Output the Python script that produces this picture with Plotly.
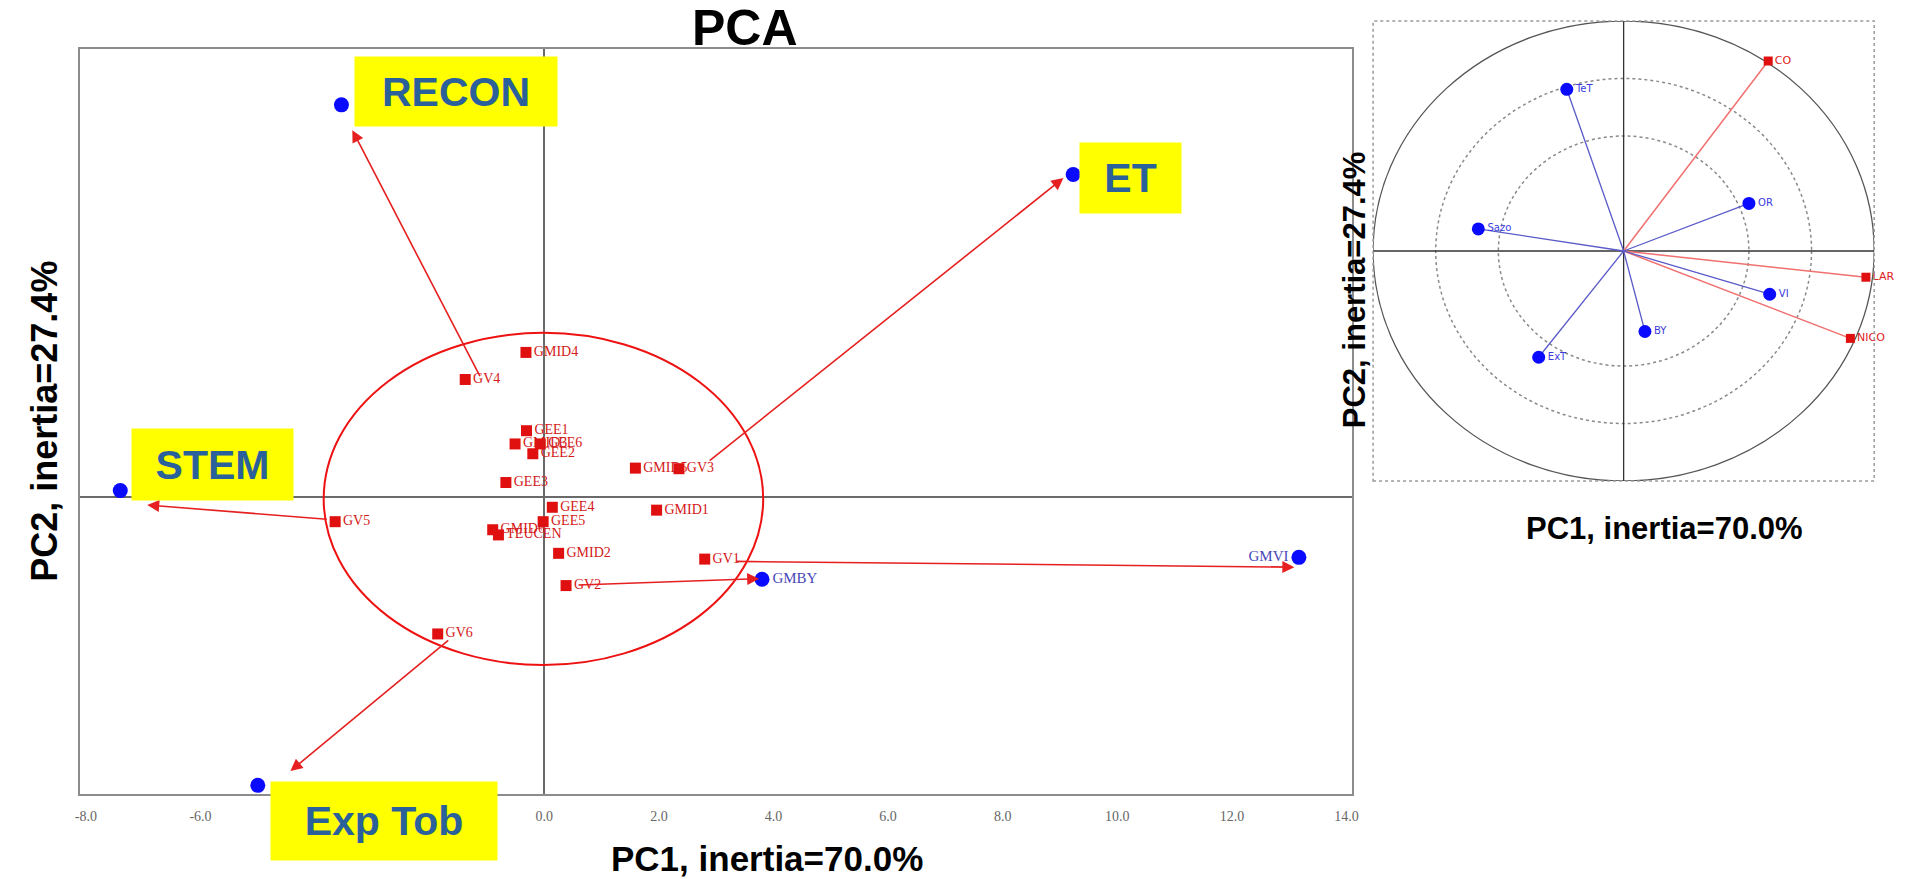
import plotly.graph_objects as go

# ---- Individuals (active observations) on the PC1/PC2 plane ----
obs_names = ["GMID4", "GV4", "GEE1", "GMID3", "GEE6", "GEE2", "GEE3", "GMID5", "GV3",
             "GEE4", "GMID1", "GEE5", "GMID6", "TEUCEN", "GMID2", "GV1", "GV2", "GV5", "GV6"]
obs_pc1 = [-0.32, -1.38, -0.31, -0.51, -0.07, -0.20, -0.67, 1.59, 2.35,
           0.14, 1.96, -0.02, -0.90, -0.80, 0.25, 2.80, 0.38, -3.65, -1.86]
obs_pc2 = [2.51, 2.04, 1.15, 0.92, 0.92, 0.75, 0.25, 0.50, 0.49,
           -0.18, -0.23, -0.43, -0.57, -0.66, -0.98, -1.08, -1.54, -0.43, -2.38]

# ---- Supplementary individuals ----
sup_names = ["RECON", "ET", "STEM", "Exp Tob", "GMBY", "GMVI"]
sup_pc1 = [-3.54, 9.23, -7.40, -5.00, 3.80, 13.17]
sup_pc2 = [6.81, 5.60, 0.11, -5.01, -1.43, -1.05]
sup_text = ["", "", "", "", "GMBY", "GMVI"]
sup_textpos = ["middle right"] * 5 + ["middle left"]

# ---- Arrows: tail (near a group label) -> head (next to a supplementary point) ----
arrow_tail_pc1 = [-1.11, 2.86, -3.77, -1.65, 0.57, 3.33]
arrow_tail_pc2 = [2.07, 0.61, -0.39, -2.47, -1.53, -1.12]
arrow_head_pc1 = [-3.35, 9.06, -6.93, -4.43, 3.75, 13.09]
arrow_head_pc2 = [6.37, 5.54, -0.14, -4.76, -1.42, -1.22]

# ---- Highlight boxes for the supplementary groups ----
box_labels = ["RECON", "ET", "STEM", "Exp Tob"]

# ---- Main axis ticks ----
pc1_ticks = [-8, -6, -4, -2, 0, 2, 4, 6, 8, 10, 12, 14]
pc1_ticktext = ["%.1f" % t for t in pc1_ticks]

# ---- Correlation circle: variables ----
var_red_names = ["CO", "LAR", "NICO"]
var_red_x = [0.577, 0.967, 0.905]
var_red_y = [0.826, -0.114, -0.380]
var_blue_names = ["TeT", "OR", "Sazo", "VI", "BY", "ExT"]
var_blue_x = [-0.227, 0.500, -0.580, 0.583, 0.085, -0.339]
var_blue_y = [0.703, 0.207, 0.096, -0.188, -0.350, -0.462]
circle_radii = [0.5, 0.75, 1.0]

W, H = 1913, 879
RED = "#e01010"
BLUE = "#0a0aff"

fig = go.Figure()

# active individuals
fig.add_trace(go.Scatter(
    x=obs_pc1, y=obs_pc2, mode="markers+text", text=obs_names,
    textposition="middle right",
    marker=dict(symbol="square", size=11, color=RED),
    textfont=dict(family="Liberation Serif", size=14, color="#d41818"),
    xaxis="x", yaxis="y", cliponaxis=False, hoverinfo="text"))

# supplementary individuals
fig.add_trace(go.Scatter(
    x=sup_pc1, y=sup_pc2, mode="markers+text", text=sup_text,
    textposition=sup_textpos,
    marker=dict(symbol="circle", size=15, color=BLUE),
    textfont=dict(family="Liberation Serif", size=15, color="#4848b8"),
    xaxis="x", yaxis="y", cliponaxis=False, hovertext=sup_names, hoverinfo="text"))

# correlation circle: vectors from origin
for nx, ny in zip(var_red_x, var_red_y):
    fig.add_trace(go.Scatter(x=[0, nx], y=[0, ny], mode="lines",
                             line=dict(color="#f07070", width=1.5),
                             xaxis="x2", yaxis="y2", hoverinfo="skip"))
for nx, ny in zip(var_blue_x, var_blue_y):
    fig.add_trace(go.Scatter(x=[0, nx], y=[0, ny], mode="lines",
                             line=dict(color="#5a5ac8", width=1.3),
                             xaxis="x2", yaxis="y2", hoverinfo="skip"))

fig.add_trace(go.Scatter(
    x=var_red_x, y=var_red_y, mode="markers+text", text=var_red_names,
    textposition="middle right",
    marker=dict(symbol="square", size=9, color=RED),
    textfont=dict(family="DejaVu Sans", size=11, color="#e02020"),
    xaxis="x2", yaxis="y2", cliponaxis=False))
fig.add_trace(go.Scatter(
    x=var_blue_x, y=var_blue_y, mode="markers+text", text=var_blue_names,
    textposition="middle right",
    marker=dict(symbol="circle", size=13, color=BLUE),
    textfont=dict(family="DejaVu Sans", size=10, color="#3a3ae0"),
    xaxis="x2", yaxis="y2", cliponaxis=False))

shapes = []
# grouping ellipse around the active individuals
shapes.append(dict(type="circle", xref="x", yref="y", x0=-3.85, x1=3.82, y0=-2.92, y1=2.85,
                   line=dict(color="#ee1111", width=2), layer="above"))

# correlation circle frame and guides
shapes.append(dict(type="rect", xref="x2 domain", yref="y2 domain", x0=0, x1=1, y0=0, y1=1,
                   line=dict(color="#9a9a9a", width=1.5, dash="dot")))
for r in circle_radii:
    if r < 1.0:
        shapes.append(dict(type="circle", xref="x2", yref="y2", x0=-r, x1=r, y0=-r, y1=r,
                           line=dict(color="#8a8a8a", width=1.5, dash="dot"), layer="below"))
    else:
        shapes.append(dict(type="circle", xref="x2", yref="y2", x0=-r, x1=r, y0=-r, y1=r,
                           line=dict(color="#555555", width=1.3), layer="below"))
shapes.append(dict(type="line", xref="x2", yref="y2", x0=-1, x1=1, y0=0, y1=0,
                   line=dict(color="#333333", width=1.3), layer="below"))
shapes.append(dict(type="line", xref="x2", yref="y2", x0=0, x1=0, y0=-1, y1=1,
                   line=dict(color="#333333", width=1.3), layer="below"))

annotations = []
for tx, ty, hx, hy in zip(arrow_tail_pc1, arrow_tail_pc2, arrow_head_pc1, arrow_head_pc2):
    annotations.append(dict(x=hx, y=hy, ax=tx, ay=ty, xref="x", yref="y", axref="x", ayref="y",
                            text="", showarrow=True, arrowhead=2, arrowsize=1.5,
                            arrowwidth=1.6, arrowcolor="#e62020", standoff=0))

# yellow label boxes (pixel centres and sizes)
box_cx = [454, 1132.5, 208.5, 381]
box_cy = [91.5, 178, 464.5, 821]
box_w = [202, 101, 161, 226]
box_h = [69, 70, 71, 78]
for lab, cx, cy, bw, bh in zip(box_labels, box_cx, box_cy, box_w, box_h):
    annotations.append(dict(x=cx / W, y=1 - cy / H, xref="paper", yref="paper",
                            text="<b>%s</b>" % lab, showarrow=False,
                            font=dict(family="Liberation Sans", size=41, color="#2b619a"),
                            bgcolor="#ffff00", width=bw, height=bh, borderpad=0,
                            xanchor="center", yanchor="middle", align="center", valign="middle"))

# titles
annotations.append(dict(x=744 / W, y=1 - 28 / H, xref="paper", yref="paper", text="<b>PCA</b>",
                        showarrow=False, font=dict(family="Liberation Sans", size=50, color="black"),
                        xanchor="center", yanchor="middle"))
annotations.append(dict(x=766 / W, y=1 - 858 / H, xref="paper", yref="paper",
                        text="<b>PC1, inertia=70.0%</b>", showarrow=False,
                        font=dict(family="Liberation Sans", size=35, color="black"),
                        xanchor="center", yanchor="middle"))
annotations.append(dict(x=40 / W, y=1 - 421 / H, xref="paper", yref="paper",
                        text="<b>PC2, inertia=27.4%</b>", showarrow=False, textangle=-90,
                        font=dict(family="Liberation Sans", size=36, color="black"),
                        xanchor="center", yanchor="middle"))
annotations.append(dict(x=1669 / W, y=1 - 528 / H, xref="paper", yref="paper",
                        text="<b>PC1, inertia=70.0%</b>", showarrow=False,
                        font=dict(family="Liberation Sans", size=31, color="black"),
                        xanchor="center", yanchor="middle"))
annotations.append(dict(x=1357 / W, y=1 - 290 / H, xref="paper", yref="paper",
                        text="<b>PC2, inertia=27.4%</b>", showarrow=False, textangle=-90,
                        font=dict(family="Liberation Sans", size=31, color="black"),
                        xanchor="center", yanchor="middle"))

fig.update_layout(
    width=W, height=H, margin=dict(l=0, r=0, t=0, b=0),
    paper_bgcolor="white", plot_bgcolor="white", showlegend=False,
    xaxis=dict(domain=[75.6 / W, 1355 / W], range=[-8.1, 14.1],
               tickvals=pc1_ticks, ticktext=pc1_ticktext, ticks="",
               tickfont=dict(family="Liberation Serif", size=14, color="#666666"),
               ticklabelstandoff=8,
               showline=True, mirror=True, linecolor="#8c8c8c", linewidth=2,
               zeroline=True, zerolinecolor="#6a6a6a", zerolinewidth=2,
               showgrid=False, anchor="y"),
    yaxis=dict(domain=[1 - 794 / H, 1 - 49 / H], range=[-5.16, 7.78],
               showticklabels=False, ticks="",
               showline=True, mirror=True, linecolor="#8c8c8c", linewidth=2,
               zeroline=True, zerolinecolor="#6a6a6a", zerolinewidth=2,
               showgrid=False, anchor="x"),
    xaxis2=dict(domain=[1376 / W, 1880 / W], range=[-1.0, 1.0], visible=False, anchor="y2"),
    yaxis2=dict(domain=[1 - 481 / H, 1 - 21 / H], range=[-1.0, 1.0], visible=False, anchor="x2"),
    shapes=shapes, annotations=annotations,
)

fig.write_html("out.html")
